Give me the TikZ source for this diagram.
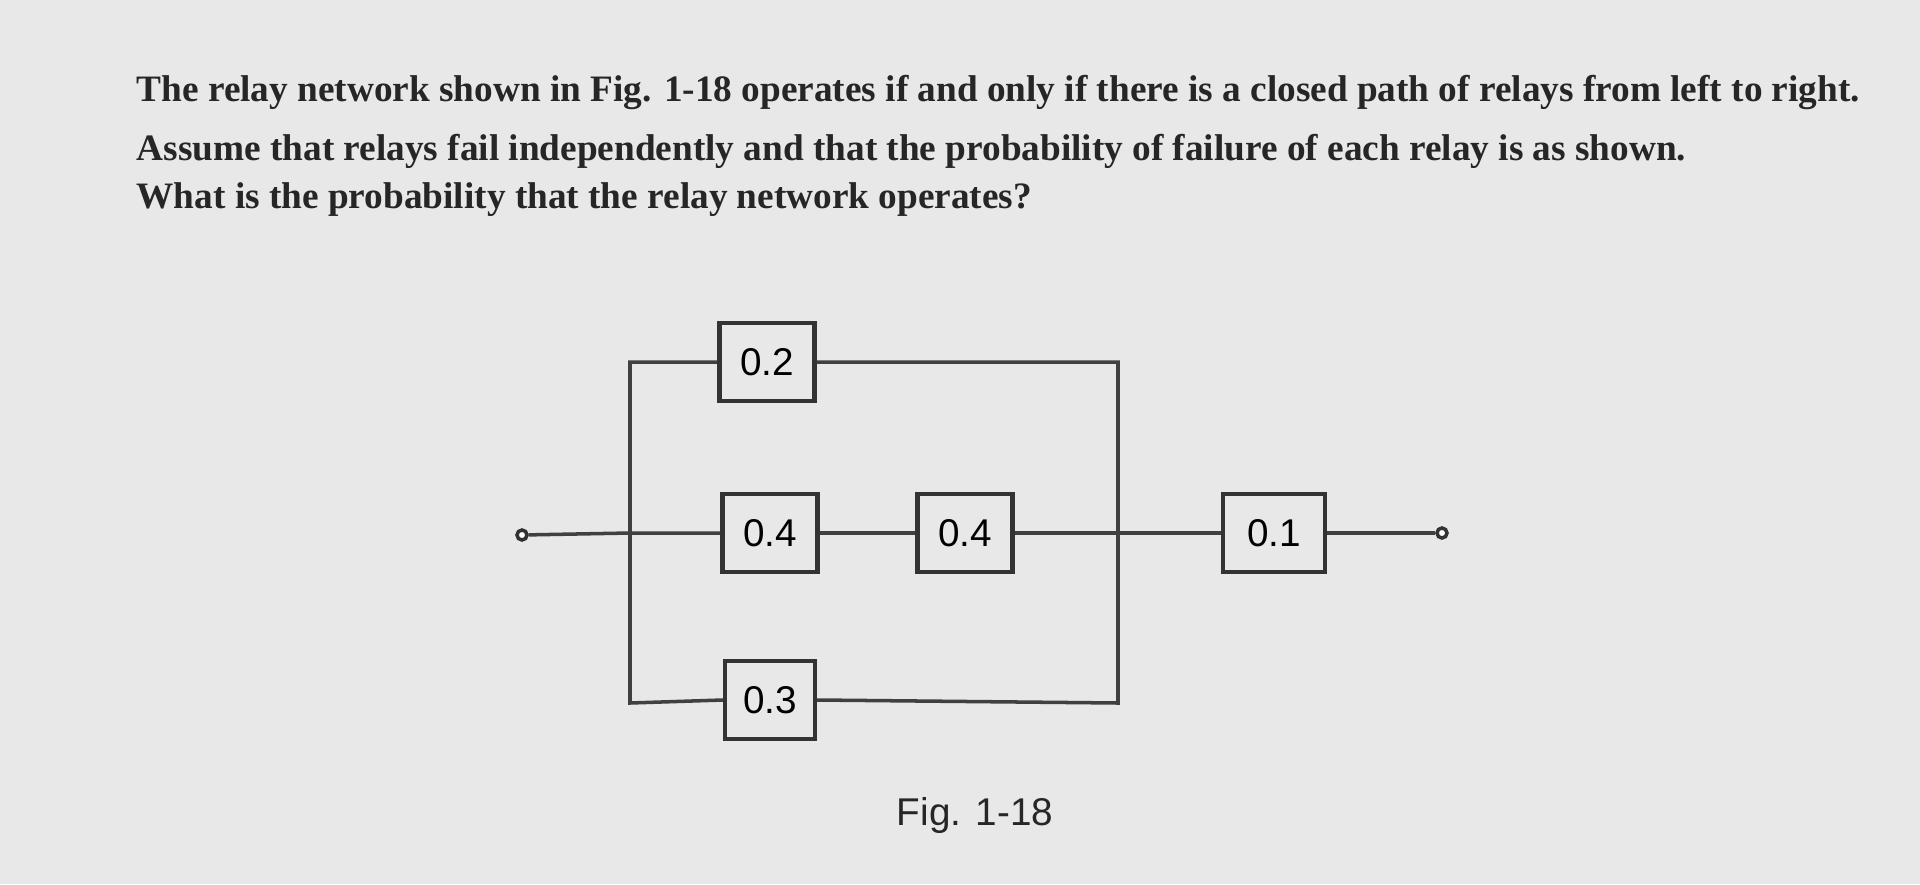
\documentclass[tikz,border=0pt]{standalone}
\usepackage{fontspec}
\setmainfont{Liberation Serif}
\newfontfamily\lsans{Liberation Sans}
\begin{document}
\begin{tikzpicture}[x=0.01cm,y=-0.01cm,
  relay/.style={draw=black!80,line width=1.2pt,minimum width=0.95cm,minimum height=0.78cm,font=\lsans\fontsize{11}{13}\selectfont,inner sep=0pt},
  wire/.style={draw=black!75,line width=1pt},
  qtext/.style={anchor=base west,inner sep=0pt,font=\bfseries\fontsize{10.6}{13}\selectfont,text=black!85},
  term/.style={circle,draw=black!80,line width=1pt,minimum size=0.1cm,inner sep=0pt,fill=white}]
\fill[gray!18] (0,0) rectangle (1920,884);
\useasboundingbox (0,0) rectangle (1920,884);
\node[qtext] (l1) at (136,101) {The relay network shown in Fig. 1-18 operates if and only if there is a closed path of relays from left to right.};
\node[qtext] (l2) at (136,160) {Assume that relays fail independently and that the probability of failure of each relay is as shown.};
\node[qtext] (l3) at (136,208) {What is the probability that the relay network operates?};
\node[relay] (a) at (767,362) {0.2};
\node[relay] (b) at (770,533) {0.4};
\node[relay] (c) at (965,533) {0.4};
\node[relay,minimum width=1.02cm] (d) at (1274,533) {0.1};
\node[relay,minimum width=0.9cm] (e) at (770,700) {0.3};
\node[term] (L) at (522,535) {};
\node[term] (R) at (1442,533) {};
\coordinate (jl) at (630,533);
\coordinate (jr) at (1118,533);
\coordinate (tl) at (630,362);
\coordinate (bl) at (630,703);
\coordinate (tr) at (1118,362);
\coordinate (br) at (1118,703);
\draw[wire] (L) -- (jl) -- (b.west);
\draw[wire] (b) -- (c);
\draw[wire] (c.east) -- (jr) -- (d.west);
\draw[wire] (d) -- (R);
\draw[wire] (a.west) -- (tl) -- (bl) -- (e.west);
\draw[wire] (a.east) -- (tr) -- (br) -- (e.east);
\node[font=\lsans\fontsize{11}{13}\selectfont,text=black!85] (fig) at (975,815) {Fig. 1-18};
\end{tikzpicture}
\end{document}
